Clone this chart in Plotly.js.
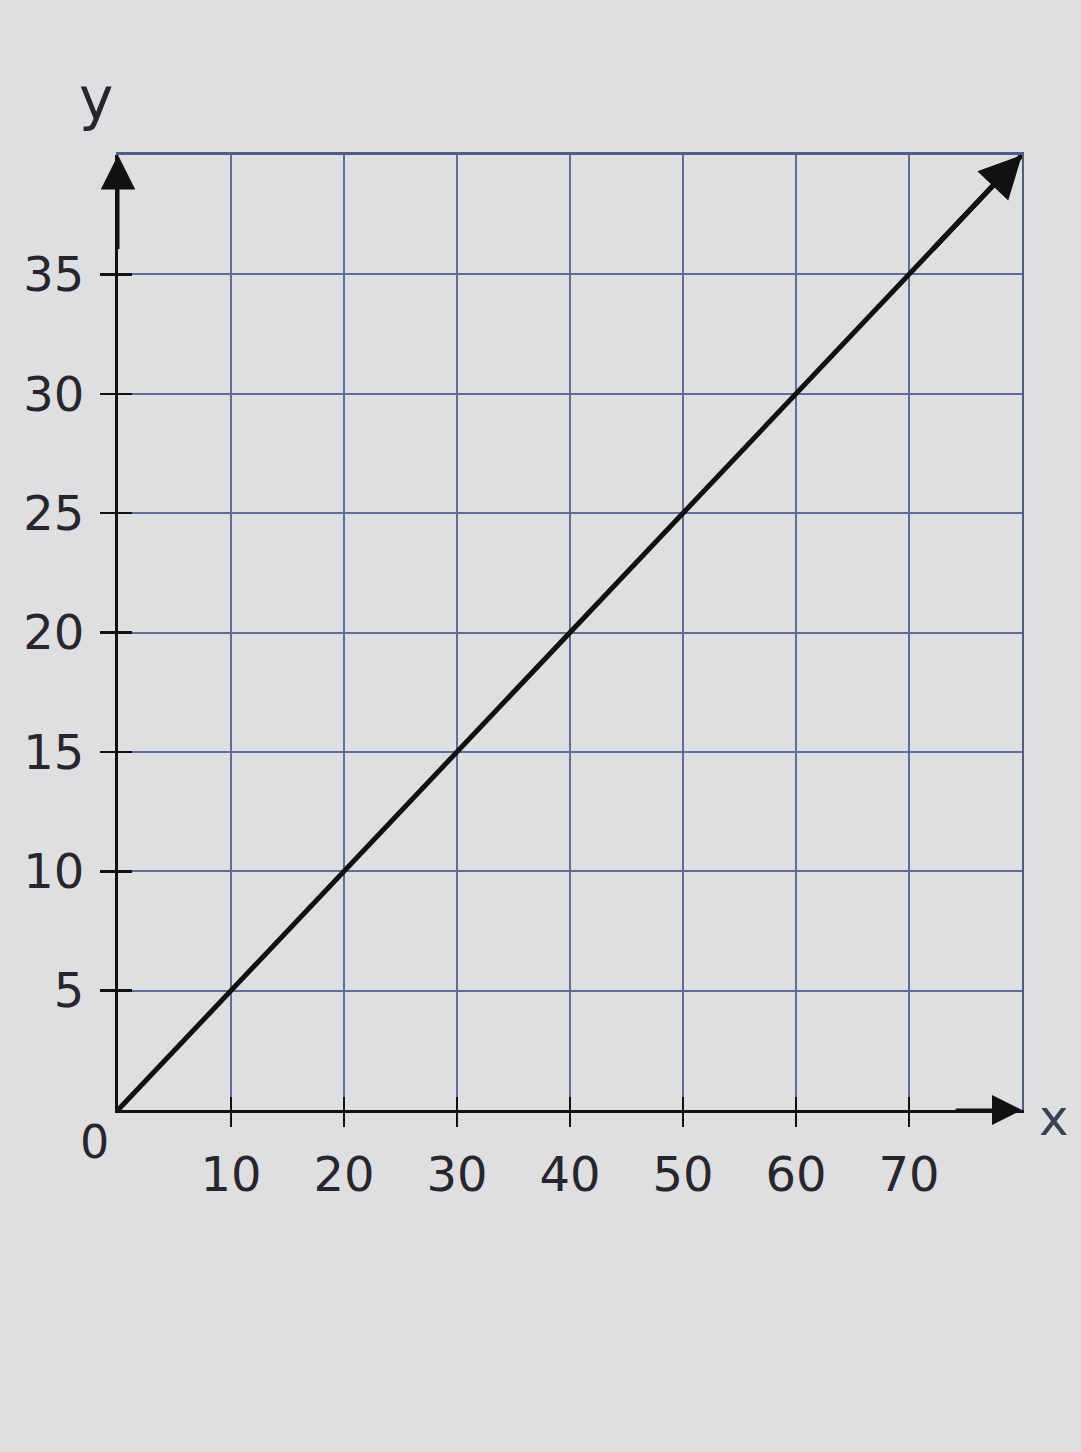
<!DOCTYPE html>
<html>
<head>
<meta charset="utf-8">
<script src="https://cdn.plot.ly/plotly-3.0.1.min.js"></script>
<style>html,body{margin:0;padding:0;background:#dfdfe1;}#chart{width:1081px;height:1452px;}</style>
</head>
<body>
<div id="chart"></div>
<script>
// Data
const xTickVals = [10, 20, 30, 40, 50, 60, 70];
const xTickText = ['10', '20', '30', '40', '50', '60', '70'];
const yTickVals = [5, 10, 15, 20, 25, 30, 35];
const yTickText = ['5', '10', '15', '20', '25', '30', '35'];
const xGrid = [10, 20, 30, 40, 50, 60, 70, 80];
const yGrid = [5, 10, 15, 20, 25, 30, 35, 40];
const lineX = [0, 80];
const lineY = [0, 40];
const xRange = [0, 80];
const yRange = [0, 40];

const FONT = 'DejaVu Sans, Verdana, sans-serif';
const txt = '#26262c';
const gridCol = '#5f6e96';

const traces = [
  {x: lineX, y: lineY, xaxis: 'x', yaxis: 'y', mode: 'lines',
   line: {color: '#111', width: 5}, hoverinfo: 'skip', showlegend: false},
  {x: lineX, y: lineY, xaxis: 'x2', yaxis: 'y2', mode: 'lines',
   opacity: 0, hoverinfo: 'skip', showlegend: false},
  {x: lineX, y: lineY, xaxis: 'x3', yaxis: 'y3', mode: 'lines',
   opacity: 0, hoverinfo: 'skip', showlegend: false}
];

const layout = {
  width: 1081, height: 1452,
  margin: {l: 118, r: 59, t: 155, b: 342},
  paper_bgcolor: '#dfdfe1', plot_bgcolor: '#dfdfe1',
  showlegend: false,
  font: {family: FONT, size: 48, color: txt},
  // grid axes (mirrored line gives the top and right borders)
  xaxis: {range: xRange, tickmode: 'array', tickvals: xGrid, showticklabels: false,
          ticks: '', showgrid: true, gridcolor: gridCol, gridwidth: 2,
          zeroline: false, showline: true, mirror: true, linecolor: '#4f5d85', linewidth: 3,
          fixedrange: true},
  yaxis: {range: yRange, tickmode: 'array', tickvals: yGrid, showticklabels: false,
          ticks: '', showgrid: true, gridcolor: gridCol, gridwidth: 2,
          zeroline: false, showline: true, mirror: true, linecolor: '#4f5d85', linewidth: 2,
          fixedrange: true},
  // labelled axes with outside ticks
  xaxis2: {overlaying: 'x', anchor: 'y2', range: xRange, tickmode: 'array',
           tickvals: xTickVals, ticktext: xTickText, ticks: 'outside', ticklen: 14,
           tickwidth: 2.5, tickcolor: '#111', showgrid: false, zeroline: false,
           showline: true, linecolor: '#111', linewidth: 3, ticklabelstandoff: 6,
           tickfont: {family: FONT, size: 48, color: txt}, fixedrange: true},
  yaxis2: {overlaying: 'y', anchor: 'x2', range: yRange, tickmode: 'array',
           tickvals: yTickVals, ticktext: yTickText, ticks: 'outside', ticklen: 15,
           tickwidth: 2.5, tickcolor: '#111', showgrid: false, zeroline: false,
           showline: true, linecolor: '#111', linewidth: 3, ticklabelstandoff: 6,
           tickfont: {family: FONT, size: 48, color: txt}, fixedrange: true},
  // inside tick halves
  xaxis3: {overlaying: 'x', anchor: 'y3', range: xRange, tickmode: 'array',
           tickvals: xTickVals, ticks: 'inside', ticklen: 13, tickwidth: 2.5,
           tickcolor: '#111', showticklabels: false, showgrid: false,
           zeroline: false, showline: false, fixedrange: true},
  yaxis3: {overlaying: 'y', anchor: 'x3', range: yRange, tickmode: 'array',
           tickvals: yTickVals, ticks: 'inside', ticklen: 14, tickwidth: 2.5,
           tickcolor: '#111', showticklabels: false, showgrid: false,
           zeroline: false, showline: false, fixedrange: true},
  annotations: [
    // arrowhead on the line
    {x: lineX[1], y: lineY[1], ax: 72, ay: 36, xref: 'x', yref: 'y', axref: 'x', ayref: 'y',
     text: '', showarrow: true, arrowhead: 2, arrowsize: 1.7, arrowwidth: 5, arrowcolor: '#111', standoff: 0},
    // y axis arrow
    {x: 0, y: yRange[1], ax: 0, ay: 36, xref: 'x', yref: 'y', axref: 'x', ayref: 'y',
     text: '', showarrow: true, arrowhead: 2, arrowsize: 2.3, arrowwidth: 3, arrowcolor: '#111', standoff: 0},
    // x axis arrow
    {x: xRange[1], y: 0, ax: 74, ay: 0, xref: 'x', yref: 'y', axref: 'x', ayref: 'y',
     text: '', showarrow: true, arrowhead: 2, arrowsize: 2.0, arrowwidth: 3, arrowcolor: '#111', standoff: 0},
    // origin label
    {x: 0, y: 0, xref: 'x', yref: 'y', text: '0', showarrow: false,
     xshift: -24, yshift: -32, font: {family: FONT, size: 46, color: txt}},
    // axis letters
    {x: 0, y: yRange[1], xref: 'x', yref: 'y', text: 'y', showarrow: false,
     xshift: -22, yshift: 56, font: {family: FONT, size: 58, color: txt}},
    {x: xRange[1], y: 0, xref: 'x', yref: 'y', text: 'x', showarrow: false,
     xshift: 32, yshift: -8, font: {family: FONT, size: 50, color: '#3a4150'}}
  ]
};

Plotly.newPlot('chart', traces, layout, {displayModeBar: false, staticPlot: true});
</script>
</body>
</html>
